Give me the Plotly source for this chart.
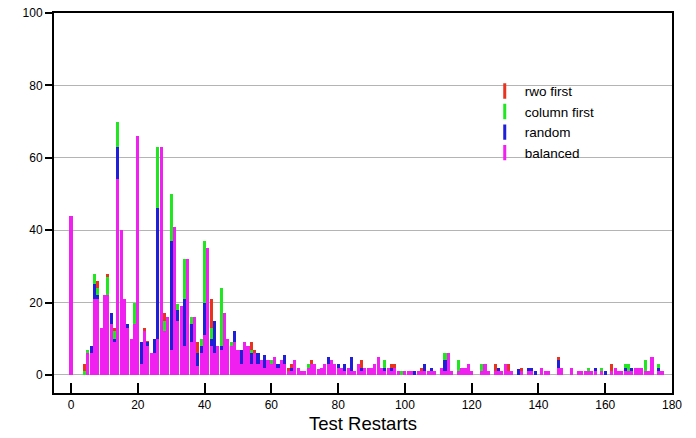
import plotly.graph_objects as go

# x = 0..178 (Test Restarts)
restarts = list(range(179))

rwo_first = [
    44, 0, 0, 0, 3, 6, 7, 26, 26, 10,
    20, 28, 15, 13, 62, 35, 18, 12, 9, 15,
    62, 7, 13, 9.5, 5, 8, 40, 55, 17, 12,
    30, 38, 16, 17, 25, 28, 12, 14, 9, 7,
    30, 30, 21, 10, 7, 10, 14, 9, 7, 9,
    5, 5, 8, 7, 9, 7, 5, 3, 4, 3,
    3, 2, 3, 3, 3, 2, 3, 2, 1, 1,
    1, 1, 4, 2, 1, 1, 2, 2, 3, 2,
    1, 1, 3, 1, 2, 1, 1, 4, 1, 1,
    1, 2, 3, 1, 2, 1, 3, 3, 0, 0,
    0, 0, 0, 0, 0, 2, 1, 0, 1, 0,
    0, 1, 4, 2, 0, 0, 1, 1, 1, 1,
    0, 0, 0, 1, 1, 0, 0, 3, 1, 0,
    1, 3, 0, 0, 0, 2, 0, 1, 1, 0,
    0, 0, 0, 0, 0, 0, 5, 1, 0, 0,
    0, 0, 0, 0, 0, 1, 0, 1, 0, 1,
    0, 0, 3, 1, 0, 0, 1, 1, 2, 1,
    1, 1, 1, 0, 1, 0, 1, 0, 0,
]

column_first = [
    44, 0, 0, 0, 1, 7, 6, 28, 24, 11,
    21, 27, 14, 12, 70, 38, 19, 11, 8, 20,
    55, 8, 12, 8, 6, 7, 63, 60, 15, 14,
    50, 36, 19.5, 16, 32, 30, 16, 13, 5, 10,
    37, 31, 13, 12, 6, 24, 15, 8, 9, 10,
    6, 6, 7, 6, 7, 5, 4, 2, 3, 3,
    4, 3, 2, 2, 2, 1, 1, 2, 1, 0,
    1, 3, 2, 2, 1, 1, 2, 2, 3, 2,
    1, 1, 2, 1, 2, 0, 1, 1, 1, 1,
    1, 2, 3, 1, 4, 1, 1, 1, 0, 1,
    0, 0, 1, 0, 1, 1, 1, 0, 1, 0,
    0, 1, 6, 2, 0, 0, 4, 1, 1, 1,
    0, 0, 0, 3, 1, 0, 0, 1, 1, 0,
    1, 1, 0, 0, 0, 1, 0, 2, 1, 0,
    0, 0, 0, 0, 0, 0, 3, 1, 0, 0,
    0, 0, 0, 0, 0, 2, 0, 1, 0, 2,
    0, 0, 1, 1, 0, 0, 3, 3, 1, 1,
    1, 1, 4, 0, 1, 0, 3, 0, 0,
]

random_order = [
    44, 0, 0, 0, 0, 5, 8, 25, 22, 10,
    19, 22, 17, 10, 63, 36, 17, 14, 9, 14,
    58, 9, 11, 9, 5, 10, 46, 58, 10, 13,
    37, 35, 18, 18, 21, 29, 14, 12, 6, 8,
    20, 32, 10, 15, 8, 8, 13, 7, 6, 12,
    5, 7, 6, 5, 6, 4, 6, 3, 5.5, 3,
    3, 3, 3, 3, 5.5, 1, 2, 2, 1, 1,
    0, 1, 2, 2, 1, 2, 2, 5, 3, 2,
    3, 1, 3, 1, 5, 1, 2, 2, 1, 2,
    1, 2, 3, 2, 2, 1, 2, 1, 0, 0,
    0, 0, 0, 1, 0, 1, 3, 0, 2, 0,
    0, 1, 4, 2, 0, 0, 1, 2, 1, 1,
    0, 0, 0, 1, 1, 0, 0, 1, 2, 0,
    1, 1, 0, 0, 1.5, 1, 0, 2, 2, 1,
    0, 0, 0, 0, 0, 0, 4, 1, 0, 0,
    0, 0, 1, 1, 1, 1, 0, 2, 0, 1,
    1, 0, 1, 1, 0, 0, 2, 1, 2, 1,
    1, 1, 1, 0, 1, 0, 2, 0, 0,
]

balanced = [
    44, 0, 0, 0, 0, 6, 6, 21, 21, 13,
    22, 22, 14, 9, 54, 40, 21, 13, 10, 14,
    66, 3, 12, 8, 6, 6, 10, 63, 12, 16,
    7, 41, 15, 19, 8, 32, 9, 16, 2.5, 6,
    11, 35, 8, 6, 8, 7, 17, 10, 8, 9,
    7, 3, 9, 8, 3, 6, 3, 4, 2, 4,
    3, 5, 2, 4, 3, 1, 1, 4, 2, 1,
    1, 2, 3, 3, 1.5, 2, 3, 3, 4, 3,
    2, 2, 1, 2, 1, 1, 3, 1, 2, 2,
    2, 3, 5, 2, 1, 2, 1, 2, 1, 0,
    1, 1, 1, 0, 1, 1, 1, 1, 1, 1,
    0, 2, 1, 6, 1, 0, 1, 2, 2, 3,
    1, 0, 0, 1, 3, 1, 0, 1, 1, 1,
    3, 1, 1, 0, 0, 1, 0, 1, 1, 0,
    0, 2, 1, 1, 0, 0, 2, 2, 0, 0,
    2, 0, 1, 1, 1, 1, 1, 1, 0, 1,
    0, 0, 1, 2, 1, 1, 1, 1, 1, 2,
    2, 2, 1, 1, 5, 0, 1, 1, 0,
]

series_names = ["rwo first", "column first", "random", "balanced"]
series_colors = ["#e8331e", "#22e622", "#1f1fd8", "#f020f0"]
series_values = [rwo_first, column_first, random_order, balanced]

x_ticks = [0, 20, 40, 60, 80, 100, 120, 140, 160, 180]
y_ticks = [0, 20, 40, 60, 80, 100]

fig = go.Figure()
for name, color, vals in zip(series_names, series_colors, series_values):
    fig.add_trace(go.Bar(
        x=restarts, y=vals, name=name, width=0.92,
        marker=dict(color=color, line=dict(width=0)),
        showlegend=False,
    ))
for name, color in zip(series_names, series_colors):
    fig.add_trace(go.Scatter(
        x=[None], y=[None], mode="markers", name=name,
        marker=dict(symbol="line-ns", size=11, color=color,
                    line=dict(width=3, color=color)),
    ))

font_family = "Liberation Sans, Arial, sans-serif"

fig.update_layout(
    width=696, height=438,
    margin=dict(l=54, r=24, t=13, b=45),
    barmode="overlay", bargap=0,
    plot_bgcolor="white", paper_bgcolor="white",
    font=dict(family=font_family, size=12, color="black"),
    showlegend=True,
    legend=dict(
        x=0.697, y=0.835, xanchor="left", yanchor="top",
        bgcolor="rgba(0,0,0,0)", borderwidth=0,
        font=dict(size=13.5, family=font_family, color="black"),
        itemclick=False,
    ),
    xaxis=dict(
        range=[-5.1, 180], tickmode="array", tickvals=x_ticks,
        ticktext=[str(v) for v in x_ticks],
        ticks="inside", ticklen=10, tickwidth=1.5, tickcolor="black",
        showline=True, linecolor="black", linewidth=2, mirror=True,
        showgrid=False, zeroline=False, automargin=False,
        tickfont=dict(size=12),
        title=dict(text="Test Restarts", font=dict(size=18.5), standoff=6),
    ),
    yaxis=dict(
        range=[-5, 100], tickmode="array", tickvals=y_ticks,
        ticktext=[str(v) for v in y_ticks],
        ticks="outside", ticklen=7, tickwidth=1.5, tickcolor="black",
        showline=True, linecolor="black", linewidth=2, mirror=True,
        showgrid=True, gridcolor="#b4b4b4", gridwidth=1, zeroline=False,
        automargin=False,
        tickfont=dict(size=12),
    ),
)

fig.write_html("out.html")
